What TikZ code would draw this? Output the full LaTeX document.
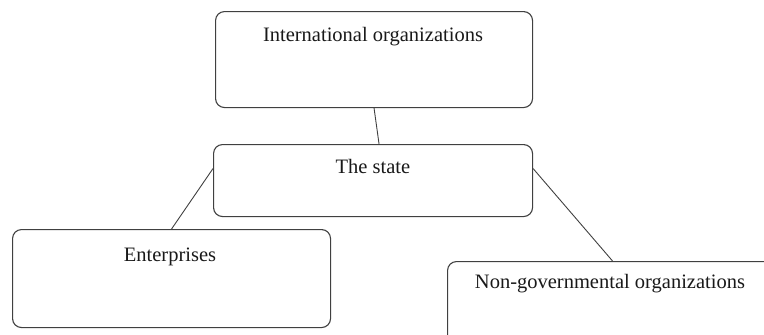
\documentclass[tikz,border=0pt]{standalone}
\usepackage{fontspec}
\setmainfont{Liberation Serif}
\begin{document}
\begin{tikzpicture}[x=1pt,y=-1pt,
  boxstyle/.style={draw=black!75, line width=1.1pt, rounded corners=9pt, inner sep=0pt, anchor=north west},
  labelstyle/.style={anchor=base, inner sep=0pt, font=\fontsize{20.5}{24}\selectfont, text=black!90},
  linkstyle/.style={draw=black!75, line width=0.9pt}]
\useasboundingbox (0,0) rectangle (764,335);
\clip (0,0) rectangle (764,335);
\node[boxstyle, minimum width=317pt, minimum height=96pt] (intl) at (215,11) {};
\node[boxstyle, minimum width=319pt, minimum height=72pt] (state) at (213,144) {};
\node[boxstyle, minimum width=318pt, minimum height=98pt] (ent) at (12,229) {};
\node[boxstyle, minimum width=330pt, minimum height=100pt] (ngo) at (447,261) {};
\node[labelstyle] (tintl) at (373,41) {International organizations};
\node[labelstyle] (tstate) at (373,173) {The state};
\node[labelstyle] (tent) at (170,261) {Enterprises};
\node[labelstyle] (tngo) at (610,288) {Non-governmental organizations};
\draw[linkstyle] (intl.south) -- ([xshift=6pt]state.north);
\draw[linkstyle] ([yshift=12pt]state.west) -- (ent.north);
\draw[linkstyle] ([yshift=12pt]state.east) -- (ngo.north);
\end{tikzpicture}
\end{document}
